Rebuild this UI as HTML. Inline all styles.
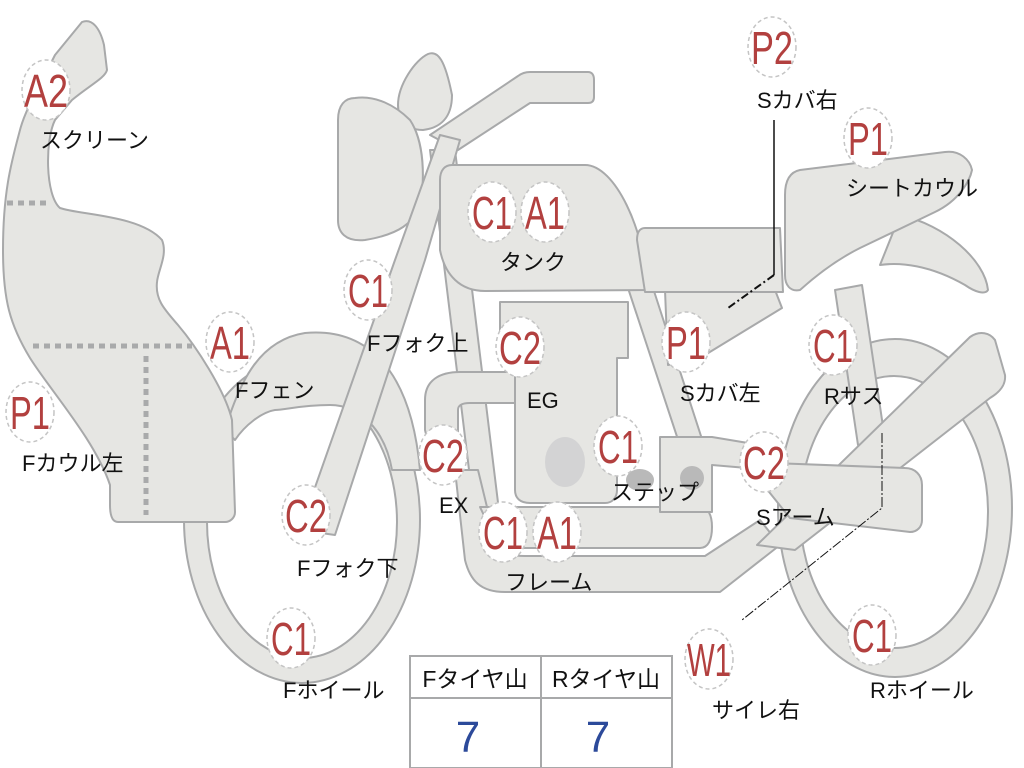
<!DOCTYPE html>
<html><head><meta charset="utf-8"><style>
html,body{margin:0;padding:0;background:#fff;width:1024px;height:768px;overflow:hidden}
svg{display:block}
.s{fill:#e6e6e3;stroke:#a8a9aa;stroke-width:2;stroke-linejoin:round}
.b{fill:#fff;stroke:#c4c4c4;stroke-width:1.5;stroke-dasharray:4 3}
.c{font-family:"Liberation Sans","Noto Sans CJK JP",sans-serif;fill:#b2403f;font-size:46px;text-anchor:middle}
.l{font-family:"Liberation Sans","Noto Sans CJK JP",sans-serif;fill:#111;font-size:22px}
.t{font-family:"Liberation Sans","Noto Sans CJK JP",sans-serif}
</style></head><body>
<svg width="1024" height="768" viewBox="0 0 1024 768" xmlns="http://www.w3.org/2000/svg">
<ellipse class="s" cx="302" cy="520" rx="118" ry="163"/>
<ellipse cx="302" cy="522" rx="95" ry="136" fill="#fff" stroke="#a8a9aa" stroke-width="2"/>
<ellipse class="s" cx="895" cy="508" rx="117" ry="169"/>
<ellipse cx="894" cy="512" rx="94" ry="136" fill="#fff" stroke="#a8a9aa" stroke-width="2"/>
<path class="s" d="M225,430 C240,380 260,340 305,333 C360,328 410,360 420,470 L392,470 C385,430 360,405 330,405 C300,405 285,410 275,410 C262,412 245,425 235,440 Z"/>
<path class="s" d="M835,290 L862,285 L885,440 L858,445 Z"/>
<path class="s" d="M900,215 C945,225 985,260 988,290 C985,295 975,292 965,285 C930,265 900,262 880,265 Z"/>
<path class="s" d="M430,135 L518,76 C522,73 526,72 530,72 L588,72 C592,72 594,75 594,80 L594,97 C594,101 592,103 588,103 L530,103 L458,150 Z"/>
<path class="s" d="M428,54 C438,50 445,60 452,95 C452,118 440,128 423,130 C405,130 398,118 398,105 C398,85 415,60 428,54 Z"/>
<path class="s" d="M355,98 C375,95 395,105 410,120 C420,135 425,160 422,195 C418,225 395,235 365,240 C345,242 338,232 338,220 L338,120 C338,105 345,98 355,98 Z"/>
<path class="s" d="M430,150 L455,150 L505,560 L480,560 Z"/>
<path class="s" d="M628,288 L653,288 L712,470 L688,470 Z"/>
<path class="s" d="M665,290 L775,290 L782,308 L700,358 L668,365 Z"/>
<path class="s" d="M455,470 L478,470 L495,540 C500,552 510,556 525,556 L705,556 L760,520 L780,545 L720,592 L505,592 C480,592 470,580 465,560 Z"/>
<path class="s" d="M500,302 L628,302 L628,358 L617,358 L617,490 C617,498 612,503 605,503 L530,503 C520,503 515,498 515,490 L515,358 L500,358 Z"/>
<ellipse cx="565" cy="462" rx="20" ry="25" fill="#d3d3d4"/>
<path class="s" d="M515,372 L460,372 C440,372 425,380 425,400 L425,430 C428,445 440,450 458,442 L458,410 C458,405 462,403 470,403 L515,403 Z"/>
<path class="s" d="M480,507 L700,507 C708,507 712,515 712,527 C712,540 708,548 700,548 L510,548 C498,548 490,540 490,528 Z"/>
<path class="s" d="M660,437 L712,437 L760,445 L770,470 L712,465 L712,512 L660,512 Z"/>
<ellipse cx="640" cy="480" rx="14" ry="11" fill="#b9b9b9"/>
<ellipse cx="692" cy="478" rx="12" ry="12" fill="#b9b9b9"/>
<path class="s" d="M757,545 L970,337 C980,330 990,333 995,340 L1005,375 C1006,385 1000,392 990,398 L795,550 Z"/>
<path class="s" d="M745,462 L905,468 C915,468 922,475 922,485 L922,520 C922,527 917,532 910,532 L790,518 Z"/>
<path class="s" d="M300,530 L395,260 L440,135 L460,140 L425,260 L335,535 Z"/>
<path class="s" d="M452,165 L585,165 C615,165 645,230 648,290 L485,291 C460,291 445,275 440,250 L440,180 C440,170 445,165 452,165 Z"/>
<path class="s" d="M645,228 L780,228 L783,292 L645,292 L637,240 C637,232 640,228 645,228 Z"/>
<path class="s" d="M800,170 L945,152 C960,150 970,160 972,170 C970,180 960,200 935,212 L860,248 C840,258 820,272 800,290 C790,292 785,285 785,275 L785,195 C785,180 790,172 800,170 Z"/>
<path class="s" d="M82,22 C92,18 100,28 104,45 L107,70 C105,78 90,85 72,100 L55,120 C45,140 45,195 60,208 C80,215 140,215 162,240 C168,255 158,270 157,282 C155,300 165,310 178,325 C195,345 225,390 232,420 L235,512 C235,518 230,522 225,522 L118,522 C112,522 110,515 110,505 L110,485 C95,440 50,390 30,358 C10,325 3,300 3,250 C3,190 12,160 20,130 C25,110 40,85 55,55 Z"/>
<g stroke="#a9aaab" stroke-width="5" stroke-dasharray="6 5" fill="none">
<line x1="7" y1="203" x2="50" y2="203"/>
<line x1="33" y1="346" x2="192" y2="346"/>
<line x1="146" y1="356" x2="146" y2="515"/>
</g>
<path d="M774,120 L774,275" fill="none" stroke="#111" stroke-width="1.5"/>
<path d="M774,275 L728,308" fill="none" stroke="#111" stroke-width="2" stroke-dasharray="8 3 2 3"/>
<path d="M882,433 L882,508 L742,620" fill="none" stroke="#111" stroke-width="1" stroke-dasharray="10 2 2 2"/>
<rect x="410" y="656" width="262" height="112" fill="#fff" stroke="#a8a9aa" stroke-width="2"/>
<line x1="410" y1="698" x2="672" y2="698" stroke="#a8a9aa" stroke-width="2"/>
<line x1="541" y1="656" x2="541" y2="768" stroke="#a8a9aa" stroke-width="2"/>
<text class="t" x="475" y="687" font-size="23" fill="#111" text-anchor="middle">Fタイヤ山</text>
<text class="t" x="606" y="687" font-size="23" fill="#111" text-anchor="middle">Rタイヤ山</text>
<text class="t" x="468" y="752" font-size="44" fill="#2c4a9a" text-anchor="middle">7</text>
<text class="t" x="598" y="752" font-size="44" fill="#2c4a9a" text-anchor="middle">7</text>
<g>
<ellipse class="b" cx="46" cy="90" rx="24" ry="30"/><text class="c" x="46" y="107" textLength="44" lengthAdjust="spacingAndGlyphs">A2</text>
<ellipse class="b" cx="30" cy="412" rx="24" ry="30"/><text class="c" x="30" y="429" textLength="40" lengthAdjust="spacingAndGlyphs">P1</text>
<ellipse class="b" cx="230" cy="342" rx="24" ry="30"/><text class="c" x="230" y="359" textLength="40" lengthAdjust="spacingAndGlyphs">A1</text>
<ellipse class="b" cx="368" cy="290" rx="24" ry="30"/><text class="c" x="368" y="307" textLength="40" lengthAdjust="spacingAndGlyphs">C1</text>
<ellipse class="b" cx="492" cy="212" rx="24" ry="30"/><text class="c" x="492" y="229" textLength="40" lengthAdjust="spacingAndGlyphs">C1</text>
<ellipse class="b" cx="545" cy="212" rx="24" ry="30"/><text class="c" x="545" y="229" textLength="40" lengthAdjust="spacingAndGlyphs">A1</text>
<ellipse class="b" cx="520" cy="347" rx="24" ry="30"/><text class="c" x="520" y="364" textLength="42" lengthAdjust="spacingAndGlyphs">C2</text>
<ellipse class="b" cx="686" cy="342" rx="24" ry="30"/><text class="c" x="686" y="359" textLength="40" lengthAdjust="spacingAndGlyphs">P1</text>
<ellipse class="b" cx="833" cy="345" rx="24" ry="30"/><text class="c" x="833" y="362" textLength="40" lengthAdjust="spacingAndGlyphs">C1</text>
<ellipse class="b" cx="443" cy="455" rx="24" ry="30"/><text class="c" x="443" y="472" textLength="42" lengthAdjust="spacingAndGlyphs">C2</text>
<ellipse class="b" cx="306" cy="515" rx="24" ry="30"/><text class="c" x="306" y="532" textLength="42" lengthAdjust="spacingAndGlyphs">C2</text>
<ellipse class="b" cx="618" cy="446" rx="24" ry="30"/><text class="c" x="618" y="463" textLength="40" lengthAdjust="spacingAndGlyphs">C1</text>
<ellipse class="b" cx="764" cy="462" rx="24" ry="30"/><text class="c" x="764" y="479" textLength="42" lengthAdjust="spacingAndGlyphs">C2</text>
<ellipse class="b" cx="503" cy="532" rx="24" ry="30"/><text class="c" x="503" y="549" textLength="40" lengthAdjust="spacingAndGlyphs">C1</text>
<ellipse class="b" cx="557" cy="532" rx="24" ry="30"/><text class="c" x="557" y="549" textLength="40" lengthAdjust="spacingAndGlyphs">A1</text>
<ellipse class="b" cx="291" cy="638" rx="24" ry="30"/><text class="c" x="291" y="655" textLength="40" lengthAdjust="spacingAndGlyphs">C1</text>
<ellipse class="b" cx="709" cy="659" rx="24" ry="30"/><text class="c" x="709" y="676" textLength="44" lengthAdjust="spacingAndGlyphs">W1</text>
<ellipse class="b" cx="872" cy="635" rx="24" ry="30"/><text class="c" x="872" y="652" textLength="40" lengthAdjust="spacingAndGlyphs">C1</text>
<ellipse class="b" cx="772" cy="47" rx="24" ry="30"/><text class="c" x="772" y="64" textLength="42" lengthAdjust="spacingAndGlyphs">P2</text>
<ellipse class="b" cx="868" cy="138" rx="24" ry="30"/><text class="c" x="868" y="155" textLength="40" lengthAdjust="spacingAndGlyphs">P1</text>
</g>
<g class="l">
<text class="l" x="40" y="148">スクリーン</text>
<text class="l" x="22" y="471">Fカウル左</text>
<text class="l" x="235" y="398">Fフェン</text>
<text class="l" x="367" y="351">Fフォク上</text>
<text class="l" x="500" y="270">タンク</text>
<text class="l" x="527" y="408">EG</text>
<text class="l" x="680" y="401">Sカバ左</text>
<text class="l" x="824" y="404">Rサス</text>
<text class="l" x="439" y="513">EX</text>
<text class="l" x="611" y="500">ステップ</text>
<text class="l" x="756" y="525">Sアーム</text>
<text class="l" x="297" y="576">Fフォク下</text>
<text class="l" x="505" y="590">フレーム</text>
<text class="l" x="283" y="698">Fホイール</text>
<text class="l" x="712" y="718">サイレ右</text>
<text class="l" x="870" y="698">Rホイール</text>
<text class="l" x="757" y="108">Sカバ右</text>
<text class="l" x="846" y="196">シートカウル</text>
</g>
</svg>
</body></html>
